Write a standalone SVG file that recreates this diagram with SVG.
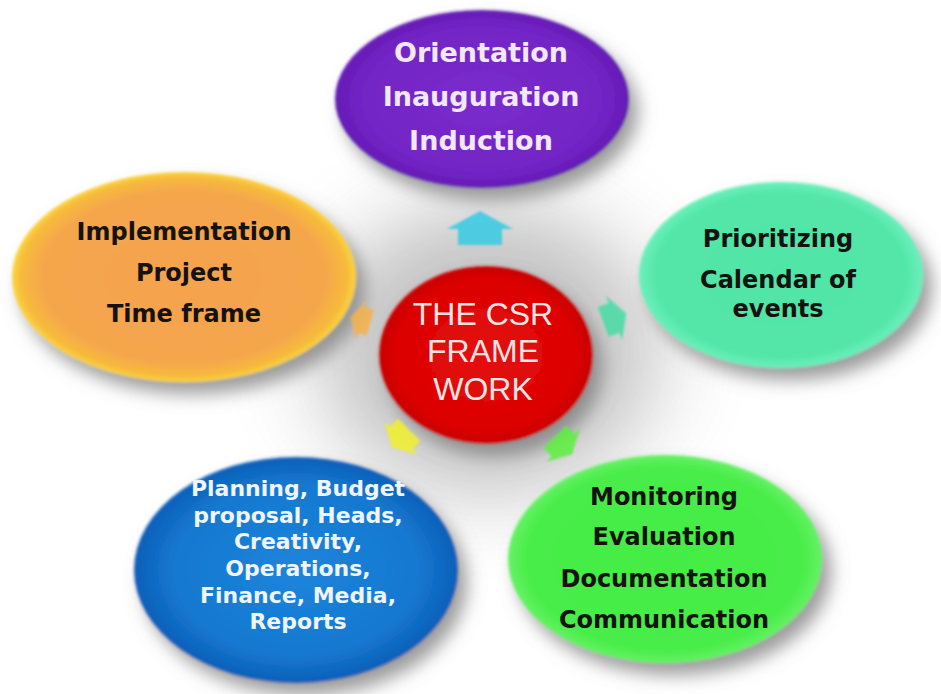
<svg xmlns="http://www.w3.org/2000/svg" width="941" height="694" viewBox="0 0 941 694">
  <defs>
    <style>
      .lbl { font-family: "DejaVu Sans", "Open Sans", sans-serif; font-weight: bold; text-anchor: middle; }
      .dark { fill: #161210; font-size: 24px; }
      .wht { fill: #eef5fc; font-size: 22px; }
      .pur { fill: #f1e8fb; font-size: 27px; }
      .ctr { font-family: "Liberation Sans", Arial, sans-serif; font-size: 32px; fill: #fbe4e4; text-anchor: middle; }
      .arrow { stroke: none; }
    </style>
    <filter id="shadow" x="-20%" y="-20%" width="145%" height="150%">
      <feGaussianBlur in="SourceAlpha" stdDeviation="9" result="b"/>
      <feOffset in="b" dx="9" dy="12" result="o"/>
      <feFlood flood-color="#7a7a7a" flood-opacity="0.75"/>
      <feComposite in2="o" operator="in" result="s"/>
      <feGaussianBlur in="SourceGraphic" stdDeviation="1.6" result="soft"/>
      <feMerge><feMergeNode in="s"/><feMergeNode in="soft"/></feMerge>
    </filter>
    <filter id="blurBig" x="-50%" y="-50%" width="200%" height="200%">
      <feGaussianBlur stdDeviation="28"/>
    </filter>
    <filter id="softArrow" x="-30%" y="-30%" width="160%" height="160%">
      <feGaussianBlur stdDeviation="1.2"/>
    </filter>
    <radialGradient id="gPurple" cx="50%" cy="50%" r="50%">
      <stop offset="0" stop-color="#7b2bcc"/>
      <stop offset="0.85" stop-color="#7224c4"/>
      <stop offset="1" stop-color="#6418b4"/>
    </radialGradient>
    <radialGradient id="gOrange" cx="50%" cy="50%" r="50%">
      <stop offset="0" stop-color="#f5a24e"/>
      <stop offset="0.82" stop-color="#f5a64c"/>
      <stop offset="0.95" stop-color="#f7bb3a"/>
      <stop offset="1" stop-color="#fbd640"/>
    </radialGradient>
    <radialGradient id="gTeal" cx="50%" cy="50%" r="50%">
      <stop offset="0" stop-color="#50e4a6"/>
      <stop offset="0.88" stop-color="#52e6a8"/>
      <stop offset="1" stop-color="#6cf0bc"/>
    </radialGradient>
    <radialGradient id="gGreen" cx="50%" cy="50%" r="50%">
      <stop offset="0" stop-color="#44ec44"/>
      <stop offset="0.88" stop-color="#48ed48"/>
      <stop offset="1" stop-color="#66f266"/>
    </radialGradient>
    <radialGradient id="gBlue" cx="50%" cy="50%" r="50%">
      <stop offset="0" stop-color="#1c84dc"/>
      <stop offset="0.75" stop-color="#1678d0"/>
      <stop offset="1" stop-color="#0b5fb8"/>
    </radialGradient>
    <radialGradient id="gRed" cx="50%" cy="50%" r="50%">
      <stop offset="0" stop-color="#e40a0a"/>
      <stop offset="0.85" stop-color="#dc0404"/>
      <stop offset="1" stop-color="#c80000"/>
    </radialGradient>
    <radialGradient id="gSwirl" cx="50%" cy="50%" r="50%">
      <stop offset="0" stop-color="#b8b8b8"/>
      <stop offset="0.55" stop-color="#c4c4c4"/>
      <stop offset="1" stop-color="#ffffff" stop-opacity="0"/>
    </radialGradient>
    <path id="arr" d="M18,0 L0,-33 L0,-22 L-16,-22 L-16,22 L0,22 L0,33 Z"/>
  </defs>

  <rect x="0" y="0" width="941" height="694" fill="#ffffff"/>
  <ellipse cx="488" cy="350" rx="250" ry="215" fill="url(#gSwirl)" filter="url(#blurBig)" opacity="0.9"/>

  <g id="node-orientation">
    <ellipse cx="482" cy="99" rx="147" ry="89" fill="url(#gPurple)" filter="url(#shadow)"/>
    <text class="lbl pur" x="481" y="62">Orientation</text>
    <text class="lbl pur" x="481" y="106">Inauguration</text>
    <text class="lbl pur" x="481" y="150">Induction</text>
  </g>

  <g id="node-implementation">
    <ellipse cx="184" cy="277" rx="172" ry="105" fill="url(#gOrange)" filter="url(#shadow)"/>
    <text class="lbl dark" x="184" y="240">Implementation</text>
    <text class="lbl dark" x="184" y="281">Project</text>
    <text class="lbl dark" x="184" y="322">Time frame</text>
  </g>

  <g id="node-prioritizing">
    <ellipse cx="781" cy="275" rx="142" ry="93" fill="url(#gTeal)" filter="url(#shadow)"/>
    <text class="lbl dark" x="778" y="247">Prioritizing</text>
    <text class="lbl dark" x="778" y="288">Calendar of</text>
    <text class="lbl dark" x="778" y="317">events</text>
  </g>

  <g id="node-monitoring">
    <ellipse cx="665" cy="559" rx="157" ry="104" fill="url(#gGreen)" filter="url(#shadow)"/>
    <text class="lbl dark" x="664" y="505">Monitoring</text>
    <text class="lbl dark" x="664" y="545">Evaluation</text>
    <text class="lbl dark" x="664" y="587">Documentation</text>
    <text class="lbl dark" x="664" y="628">Communication</text>
  </g>

  <g id="node-planning">
    <ellipse cx="296" cy="570" rx="162" ry="113" fill="url(#gBlue)" filter="url(#shadow)"/>
    <text class="lbl wht" x="298" y="496">Planning, Budget</text>
    <text class="lbl wht" x="298" y="523">proposal, Heads,</text>
    <text class="lbl wht" x="298" y="549">Creativity,</text>
    <text class="lbl wht" x="298" y="576">Operations,</text>
    <text class="lbl wht" x="298" y="603">Finance, Media,</text>
    <text class="lbl wht" x="298" y="629">Reports</text>
  </g>

  <g id="node-center">
    <ellipse cx="486" cy="355" rx="107" ry="89" fill="url(#gRed)" filter="url(#shadow)"/>
    <text class="ctr" x="483" y="325">THE CSR</text>
    <text class="ctr" x="483" y="362">FRAME</text>
    <text class="ctr" x="483" y="400">WORK</text>
  </g>

  <g id="connectors" filter="url(#softArrow)">
    <use href="#arr" class="arrow" fill="#3fcbe2" fill-opacity="0.9" transform="translate(480,229) rotate(-90)"/>
    <use href="#arr" class="arrow" fill="#46dca4" fill-opacity="0.85" transform="translate(614,318) rotate(-20) scale(0.72)"/>
    <use href="#arr" class="arrow" fill="#5cf03c" fill-opacity="0.85" transform="translate(563,445) rotate(45) scale(0.72)"/>
    <use href="#arr" class="arrow" fill="#f0f028" fill-opacity="0.85" transform="translate(401,438) rotate(135) scale(0.72)"/>
    <use href="#arr" class="arrow" fill="#f6b24a" fill-opacity="0.85" transform="translate(361,320) rotate(195) scale(0.6)"/>
  </g>
</svg>
